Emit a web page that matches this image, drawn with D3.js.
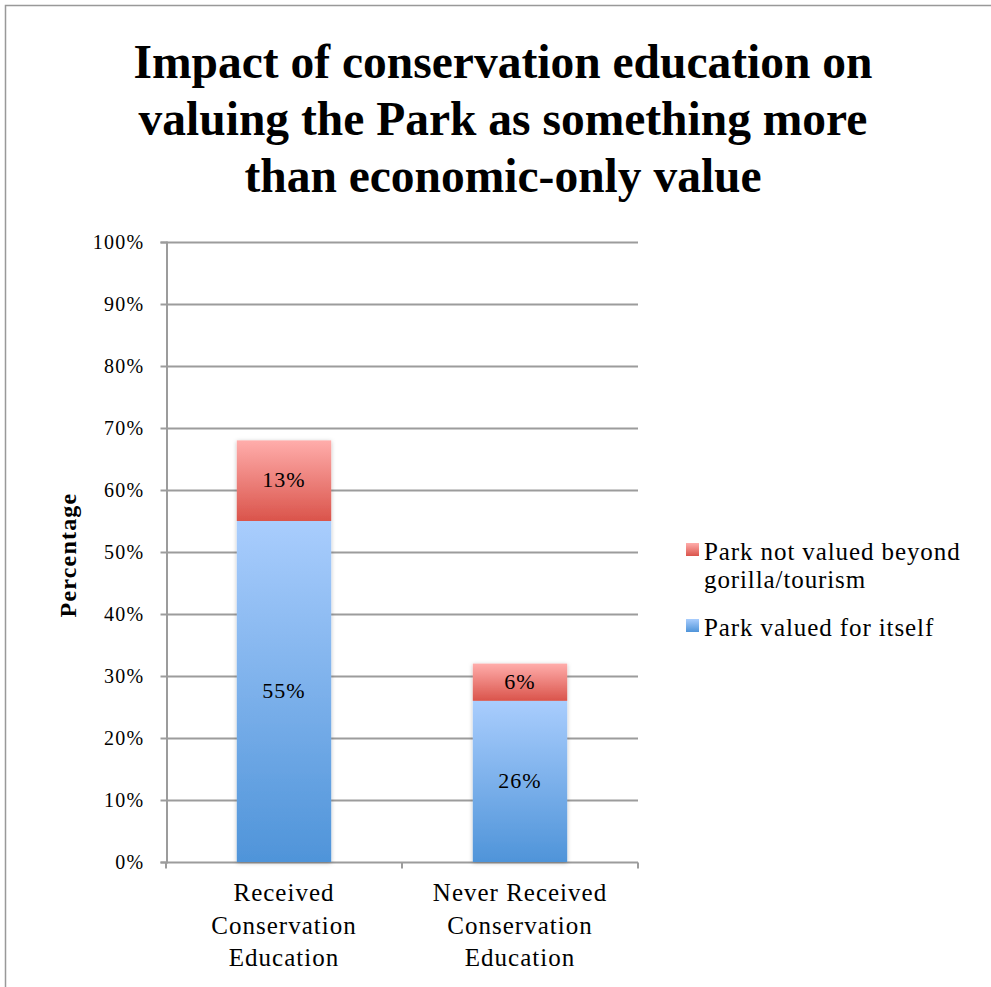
<!DOCTYPE html>
<html>
<head>
<meta charset="utf-8">
<script src="https://cdn.jsdelivr.net/npm/d3@7"></script>
<style>
  body { margin: 0; background: #fff; }
  text { font-family: "Liberation Serif", "DejaVu Serif", serif; fill: #000; }
</style>
</head>
<body>
<script>
// data
var categories = [["Received", "Conservation", "Education"], ["Never Received", "Conservation", "Education"]];
var valuedForItself = [55, 26];     // blue, bottom
var notValuedBeyond = [13, 6];      // red, top
var seriesNames = ["Park not valued beyond|gorilla/tourism", "Park valued for itself"];
var yTicks = [0, 10, 20, 30, 40, 50, 60, 70, 80, 90, 100];
var titleLines = ["Impact of conservation education on", "valuing the Park as something more", "than economic-only value"];

var W = 991, H = 987;
var svg = d3.select("body").append("svg").attr("width", W).attr("height", H);

// gradients for the bars
var defs = svg.append("defs");
function grad(id, c1, c2) {
  var g = defs.append("linearGradient").attr("id", id).attr("x1", 0).attr("y1", 0).attr("x2", 0).attr("y2", 1);
  g.append("stop").attr("offset", "0%").attr("stop-color", c1);
  g.append("stop").attr("offset", "100%").attr("stop-color", c2);
}
grad("redG", "#ffadab", "#da544b");
grad("blueG", "#a9cdfd", "#4f94d9");
var f = defs.append("filter").attr("id", "shadow").attr("x", "-20%").attr("y", "-20%").attr("width", "140%").attr("height", "140%");
f.append("feDropShadow").attr("dx", 0).attr("dy", 1).attr("stdDeviation", 2).attr("flood-color", "#000").attr("flood-opacity", 0.25);

// outer frame (only top and left edges are visible)
svg.append("rect").attr("x", 5.5).attr("y", 5.5).attr("width", W + 10).attr("height", H + 10)
  .attr("fill", "none").attr("stroke", "#999").attr("stroke-width", 1.5);

// title
svg.append("g").selectAll("text").data(titleLines).join("text")
  .attr("x", 503).attr("y", function(d, i) { return 78 + i * 57; })
  .attr("text-anchor", "middle").attr("font-size", 47.5).attr("font-weight", "bold")
  .text(function(d) { return d; });

var plotL = 166, plotR = 638, plotT = 242, plotB = 862;
var x = d3.scaleBand().domain(d3.range(categories.length)).range([plotL, plotR]).paddingInner(0.6).paddingOuter(0.3);
var xOuter = d3.scaleBand().domain(d3.range(categories.length)).range([plotL, plotR]);
var y = d3.scaleLinear().domain([0, 100]).range([plotB, plotT]);

// grid lines
svg.append("g").selectAll("line").data(yTicks.filter(function(d) { return d > 0; })).join("line")
  .attr("x1", plotL).attr("x2", plotR)
  .attr("y1", function(d) { return Math.round(y(d)) + 0.5; }).attr("y2", function(d) { return Math.round(y(d)) + 0.5; })
  .attr("stroke", "#9c9c9c").attr("stroke-width", 2);

// y axis
var yAxis = svg.append("g").attr("transform", "translate(" + (plotL + 0.5) + ",0)")
  .call(d3.axisLeft(y).tickValues(yTicks).tickSize(6).tickPadding(16).tickFormat(function(d) { return d + "%"; }));
yAxis.select(".domain").attr("stroke", "#9c9c9c").attr("stroke-width", 2);
yAxis.selectAll(".tick line").attr("stroke", "#9c9c9c").attr("stroke-width", 2);
yAxis.selectAll(".tick text").attr("font-size", 20).attr("font-family", "Liberation Serif")
  .attr("letter-spacing", 1.3).attr("fill", "#000").attr("dy", "0.3em");

// x axis
var xAxis = svg.append("g").attr("transform", "translate(0," + (plotB + 0.5) + ")");
xAxis.append("line").attr("x1", plotL).attr("x2", plotR).attr("stroke", "#9c9c9c").attr("stroke-width", 2);
xAxis.selectAll(".xt").data([0, 1, 2]).join("line").attr("class", "xt")
  .attr("x1", function(d) { return plotL + d * xOuter.bandwidth(); })
  .attr("x2", function(d) { return plotL + d * xOuter.bandwidth(); })
  .attr("y1", 0).attr("y2", 6).attr("stroke", "#9c9c9c").attr("stroke-width", 2);

var catLabels = svg.append("g").selectAll("text").data(categories).join("text")
  .attr("text-anchor", "middle").attr("font-size", 25).attr("letter-spacing", 1);
catLabels.each(function(lines, i) {
  d3.select(this).selectAll("tspan").data(lines).join("tspan")
    .attr("x", xOuter(i) + xOuter.bandwidth() / 2)
    .attr("y", function(d, j) { return 901 + j * 32.5; })
    .text(function(d) { return d; });
});

// y title
svg.append("text").attr("transform", "translate(76,555) rotate(-90)")
  .attr("text-anchor", "middle").attr("font-size", 24).attr("font-weight", "bold")
  .attr("letter-spacing", 1.2).text("Percentage");

// stacked bars
var bars = svg.append("g").attr("filter", "url(#shadow)");
bars.selectAll(".blue").data(valuedForItself).join("rect").attr("class", "blue")
  .attr("x", function(d, i) { return x(i); }).attr("width", x.bandwidth())
  .attr("y", function(d) { return y(d); }).attr("height", function(d) { return plotB - y(d); })
  .attr("fill", "url(#blueG)");
bars.selectAll(".red").data(notValuedBeyond).join("rect").attr("class", "red")
  .attr("x", function(d, i) { return x(i); }).attr("width", x.bandwidth())
  .attr("y", function(d, i) { return y(valuedForItself[i] + d); })
  .attr("height", function(d, i) { return y(valuedForItself[i]) - y(valuedForItself[i] + d); })
  .attr("fill", "url(#redG)");

// value labels
svg.append("g").selectAll("text").data(valuedForItself).join("text")
  .attr("x", function(d, i) { return x(i) + x.bandwidth() / 2; })
  .attr("y", function(d) { return (y(0) + y(d)) / 2; }).attr("dy", "0.3em")
  .attr("text-anchor", "middle").attr("font-size", 22).attr("letter-spacing", 1).text(function(d) { return d + "%"; });
svg.append("g").selectAll("text").data(notValuedBeyond).join("text")
  .attr("x", function(d, i) { return x(i) + x.bandwidth() / 2; })
  .attr("y", function(d, i) { return (y(valuedForItself[i]) + y(valuedForItself[i] + d)) / 2; }).attr("dy", "0.3em")
  .attr("text-anchor", "middle").attr("font-size", 22).attr("letter-spacing", 1).text(function(d) { return d + "%"; });

// legend
var legendY = [560, 636];
var legendFill = ["url(#redG)", "url(#blueG)"];
var lg = svg.append("g").selectAll("g").data(seriesNames).join("g")
  .attr("transform", function(d, i) { return "translate(686," + legendY[i] + ")"; });
lg.append("rect").attr("x", 0).attr("y", -17).attr("width", 13).attr("height", 13)
  .attr("fill", function(d, i) { return legendFill[i]; });
lg.append("text").attr("font-size", 25).attr("letter-spacing", 0.9).each(function(d) {
  d3.select(this).selectAll("tspan").data(d.split("|")).join("tspan")
    .attr("x", 18).attr("y", function(t, j) { return j * 28; }).text(function(t) { return t; });
});
</script>
</body>
</html>
